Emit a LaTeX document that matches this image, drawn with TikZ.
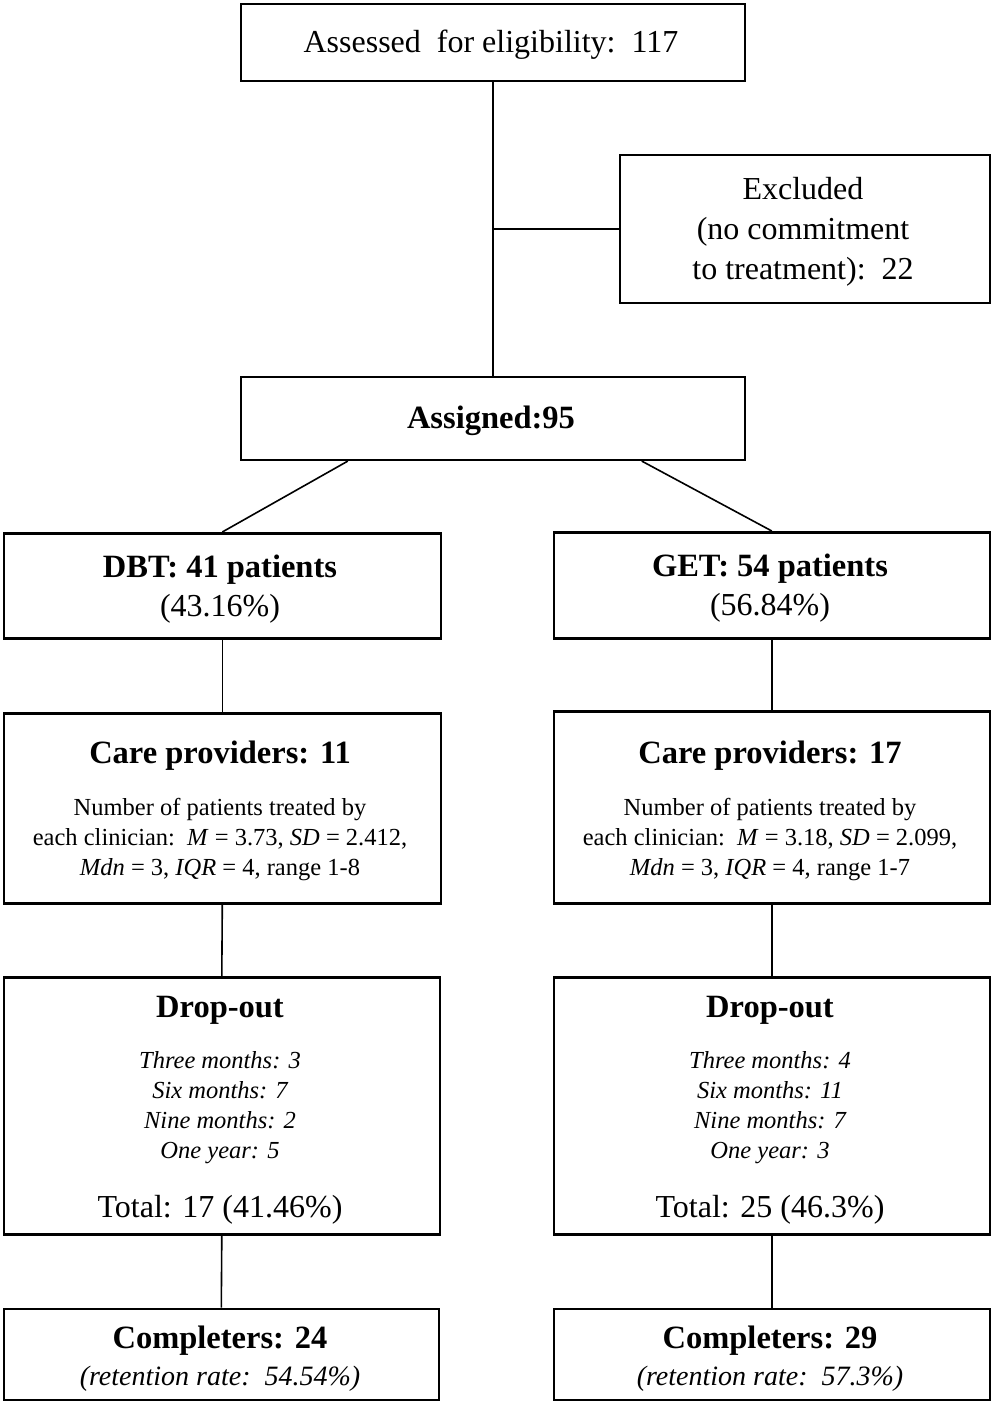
\documentclass[tikz,border=0pt]{standalone}
\usepackage{fontspec}
\setmainfont{Liberation Serif}
\usetikzlibrary{calc}
\tikzset{
  box/.style={draw, line width=2.6pt, inner sep=0pt, anchor=north west},
  conn/.style={line width=1.6pt},
  big/.style={font=\fontsize{32}{36}\selectfont, inner sep=0pt, anchor=base},
  bigb/.style={font=\fontsize{32.5}{36}\selectfont\bfseries, inner sep=0pt, anchor=base},
  small/.style={font=\fontsize{24.5}{30}\selectfont, inner sep=0pt, anchor=base},
  smalli/.style={font=\fontsize{24.5}{30}\selectfont\itshape, inner sep=0pt, anchor=base},
  reti/.style={font=\fontsize{28}{30}\selectfont\itshape, inner sep=0pt, anchor=base},
}
\newcommand{\bx}[5]{\node[box, minimum width=#4pt, minimum height=#5pt] (#1) at (#2,#3) {};}
\begin{document}
\begin{tikzpicture}[x=1pt,y=-1pt]
\useasboundingbox (0,0) rectangle (991,1408);
% boxes
\bx{top}{239.5}{2.5}{504}{77}
\bx{excl}{618.5}{153.5}{370}{148}
\bx{asg}{239.5}{375.5}{504}{83}
\bx{dbt}{2.5}{532}{437}{105}
\bx{get}{552.5}{531}{436}{106}
\bx{cpl}{2.5}{712}{437}{190}
\bx{cpr}{552.5}{710}{436}{192}
\bx{dol}{2.5}{976}{436}{257}
\bx{dor}{552.5}{976}{436}{257}
\bx{cml}{2.5}{1307.5}{435}{91}
\bx{cmr}{552.5}{1307.5}{436}{91}
% texts
\node[big] (t1) at (491,52) {Assessed\ \ for eligibility:\ \ 117};
\node[big] (t2) at (803,199.5) {Excluded};
\node[big] (t3) at (803,239.5) {(no commitment};
\node[big] (t4) at (803,279) {to treatment):\ \ 22};
\node[bigb] (t5) at (491,428) {Assigned:95};
\node[bigb] (t6) at (220,577) {DBT: 41 patients};
\node[big] (t7) at (220,616) {(43.16\%)};
\node[bigb] (t8) at (770,576) {GET: 54 patients};
\node[big] (t9) at (770,615) {(56.84\%)};
\node[bigb] (t10) at (220,763) {Care providers: 11};
\node[small] (t11a) at (220,815) {Number of patients treated by};
\node[small] (t11b) at (220,845) {each clinician:\ \ \textit{M} = 3.73, \textit{SD} = 2.412,};
\node[small] (t11c) at (220,875) {\textit{Mdn} = 3, \textit{IQR} = 4, range 1-8};
\node[bigb] (t12) at (770,763) {Care providers: 17};
\node[small] (t13a) at (770,815) {Number of patients treated by};
\node[small] (t13b) at (770,845) {each clinician:\ \ \textit{M} = 3.18, \textit{SD} = 2.099,};
\node[small] (t13c) at (770,875) {\textit{Mdn} = 3, \textit{IQR} = 4, range 1-7};
\node[bigb] (t14) at (220,1017) {Drop-out};
\node[smalli] (t15a) at (220,1068) {Three months: 3};
\node[smalli] (t15b) at (220,1098) {Six months: 7};
\node[smalli] (t15c) at (220,1128) {Nine months: 2};
\node[smalli] (t15d) at (220,1158) {One year: 5};
\node[big] (t16) at (220,1217) {Total: 17 (41.46\%)};
\node[bigb] (t17) at (770,1017) {Drop-out};
\node[smalli] (t18a) at (770,1068) {Three months: 4};
\node[smalli] (t18b) at (770,1098) {Six months: 11};
\node[smalli] (t18c) at (770,1128) {Nine months: 7};
\node[smalli] (t18d) at (770,1158) {One year: 3};
\node[big] (t19) at (770,1217) {Total: 25 (46.3\%)};
\node[bigb] (t20) at (220,1348) {Completers: 24};
\node[reti] (t21) at (220,1385) {(retention rate:\ \ 54.54\%)};
\node[bigb] (t22) at (770,1348) {Completers: 29};
\node[reti] (t23) at (770,1385) {(retention rate:\ \ 57.3\%)};
% connectors
\coordinate (br) at (top.south |- excl.west);
\draw[conn] (top.south) -- (asg.north);
\draw[conn] (br) -- (excl.west);
\draw[conn] ([xshift=-145pt]asg.south) -- (dbt.north);
\draw[conn] ([xshift=149pt]asg.south) -- (get.north);
\draw[conn] (dbt.south) -- (cpl.north);
\draw[conn] (get.south) -- (cpr.north);
\draw[conn] (cpl.south) -- (dol.north);
\draw[conn] (cpr.south) -- (dor.north);
\draw[conn] (dol.south) -- (cml.north);
\draw[conn] (dor.south) -- (cmr.north);
\end{tikzpicture}
\end{document}
